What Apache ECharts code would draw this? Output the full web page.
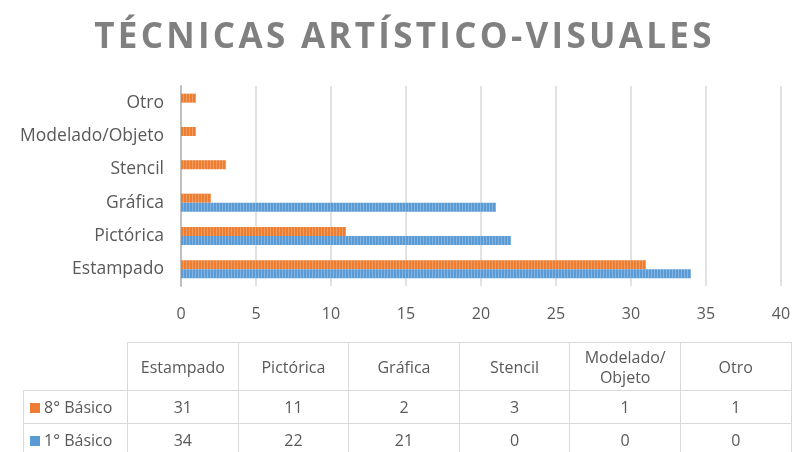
<!DOCTYPE html>
<html>
<head>
<meta charset="utf-8">
<script src="https://cdn.jsdelivr.net/npm/echarts@6/dist/echarts.min.js"></script>
<style>
  body { margin: 0; background: #fff; }
  #wrap { position: relative; width: 795px; height: 452px; overflow: hidden; }
  #chart { position: absolute; left: 0; top: 0; width: 795px; height: 452px; }
  #titulo {
    position: absolute; left: 0; top: 11px; width: 795px; text-align: center;
    font-family: "Open Sans", sans-serif; font-size: 35px; font-weight: bold;
    color: #808080; letter-spacing: 3.3px; padding-left: 14px; box-sizing: border-box;
  }
  #tabla {
    position: absolute; left: 23px; top: 342px;
    border-collapse: collapse; table-layout: fixed;
    font-family: "Open Sans", sans-serif; font-size: 16px; color: #595959;
  }
  #tabla td { border: 1px solid #d9d9d9; text-align: center; padding: 0; }
  #tabla tr.head td { height: 47px; line-height: 20px; }
  #tabla tr.fila td { height: 32px; }
  #tabla td.vacio { border-top: none; border-left: none; }
  #tabla td.serie { text-align: left; padding-left: 6px; white-space: nowrap; }
  .cuadro { display: inline-block; width: 10px; height: 10px; margin-right: 4px; vertical-align: 0px; }
</style>
</head>
<body>
<div id="wrap">
  <div id="chart"></div>
  <div id="titulo">TÉCNICAS ARTÍSTICO-VISUALES</div>
  <table id="tabla"></table>
</div>
<script>
// datos
var categorias = ["Estampado", "Pictórica", "Gráfica", "Stencil", "Modelado/Objeto", "Otro"];
var cabeceras = ["Estampado", "Pictórica", "Gráfica", "Stencil", "Modelado/<br>Objeto", "Otro"];
var octavo = [31, 11, 2, 3, 1, 1];   // 8° Básico
var primero = [34, 22, 21, 0, 0, 0]; // 1° Básico
var series = [
  { name: "8° Básico", color: "#ed7d31", data: octavo },
  { name: "1° Básico", color: "#5b9bd5", data: primero }
];

var myChart = echarts.init(document.getElementById("chart"));

var option = {
  animation: false,
  grid: { left: 181, right: 14, top: 86, bottom: 166, containLabel: false },
  xAxis: {
    type: "value",
    min: 0,
    max: 40,
    interval: 5,
    axisLine: { show: false },
    axisTick: { show: false },
    axisLabel: { color: "#595959", fontSize: 16, fontFamily: "Open Sans", margin: 20 },
    splitLine: { lineStyle: { color: "#d9d9d9", width: 1.5 } }
  },
  yAxis: {
    type: "category",
    data: categorias,
    axisLine: { show: true, lineStyle: { color: "#bfbfbf", width: 2 } },
    axisTick: { show: false },
    axisLabel: { color: "#595959", fontSize: 17.5, fontFamily: "Open Sans", margin: 17 }
  },
  series: series.map(function (s) {
    return {
      name: s.name,
      type: "bar",
      data: s.data,
      barGap: "0%",
      barCategoryGap: "46%",
      itemStyle: {
        color: s.color,
        decal: {
          symbol: "rect",
          color: "rgba(255,255,255,0.25)",
          dashArrayX: [1, 2],
          dashArrayY: [20, 0],
          rotation: 0
        }
      }
    };
  })
};

myChart.setOption(option);

// tabla de datos
var html = '<colgroup><col style="width:104px">';
for (var i = 0; i < categorias.length; i++) html += '<col style="width:110.6px">';
html += '</colgroup><tr class="head"><td class="vacio"></td>';
cabeceras.forEach(function (c) { html += '<td>' + c + '</td>'; });
html += '</tr>';
series.forEach(function (s) {
  html += '<tr class="fila"><td class="serie"><span class="cuadro" style="background:' + s.color + '"></span>' + s.name + '</td>';
  s.data.forEach(function (v) { html += '<td>' + v + '</td>'; });
  html += '</tr>';
});
document.getElementById("tabla").innerHTML = html;
</script>
</body>
</html>
